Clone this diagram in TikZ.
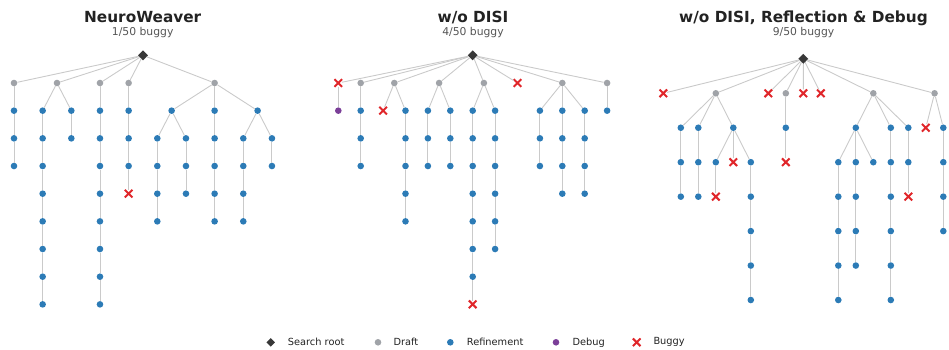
\documentclass[tikz,border=0pt]{standalone}
\usepackage{fontspec}
\setmainfont{DejaVu Sans}
\usetikzlibrary{shapes.misc}
\definecolor{cRoot}{HTML}{383838}
\definecolor{cDraft}{HTML}{A0A3A8}
\definecolor{cRef}{HTML}{2C7BB6}
\definecolor{cDbg}{HTML}{7B3F98}
\definecolor{cBug}{HTML}{E0262A}
\definecolor{cEdge}{HTML}{CACACA}
\definecolor{cTitle}{HTML}{222222}
\definecolor{cSub}{HTML}{555555}
\tikzset{
  rootnode/.style={rectangle, rotate=45, fill=cRoot, inner sep=0pt, minimum size=7pt},
  draftnode/.style={circle, fill=cDraft, inner sep=0pt, minimum size=6.6pt},
  refnode/.style={circle, fill=cRef, inner sep=0pt, minimum size=6.6pt},
  dbgnode/.style={circle, fill=cDbg, inner sep=0pt, minimum size=6.6pt},
  bugnode/.style={cross out, draw=cBug, line width=2pt, inner sep=0pt, minimum size=5.6pt},
  edge/.style={draw=cEdge, line width=0.9pt},
  titletext/.style={font=\fontsize{15.3}{18}\selectfont\bfseries, text=cTitle, anchor=base, inner sep=0pt},
  subtext/.style={font=\fontsize{10.8}{13}\selectfont, text=cSub, anchor=base, inner sep=0pt},
  legtext/.style={font=\fontsize{9.8}{12}\selectfont, text=cTitle, anchor=west, inner sep=0pt},
}
% chain of nodes: #1 prefix, #2 style, #3 x, #4 first level, #5 last level, #6 parent
\newcommand\mychain[6]{%
  \foreach \l [remember=\l as \p (initially #4)] in {#4,...,#5}{%
    \node[#2] (#1-\l) at (#3,\l) {};
    \ifnum\l>#4 \draw[edge] (#1-\p) -- (#1-\l);\fi
  }%
  \draw[edge] (#6) -- (#1-#4);%
}
\begin{document}
\begin{tikzpicture}
\useasboundingbox (0,0) rectangle (949pt,-350pt);

% ---------------- Titles ----------------
\node[titletext] (t1) at (142.7pt,-22.4pt) {NeuroWeaver};
\node[subtext] (s1) at (142.7pt,-35.2pt) {1/50 buggy};
\node[titletext] (t2) at (473pt,-22.4pt) {w/o DISI};
\node[subtext] (s2) at (473pt,-35.2pt) {4/50 buggy};
\node[titletext] (t3) at (803.5pt,-22.4pt) {w/o DISI, Reflection \& Debug};
\node[subtext] (s3) at (803.5pt,-35.2pt) {9/50 buggy};

% ---------------- Panel 1 ----------------
\begin{scope}[shift={(14pt,-55.33pt)}, x=14.33pt, y=-27.67pt]
\node[rootnode] (aR) at (9,0) {};
\node[draftnode] (a1) at (0,1) {};
\node[draftnode] (a2) at (3,1) {};
\node[draftnode] (a3) at (6,1) {};
\node[draftnode] (a4) at (8,1) {};
\node[draftnode] (a5) at (14,1) {};
\foreach \d in {a1,a2,a3,a4,a5} \draw[edge] (aR) -- (\d);
\mychain{a1c}{refnode}{0}{2}{4}{a1}
\mychain{a2a}{refnode}{2}{2}{9}{a2}
\mychain{a2b}{refnode}{4}{2}{3}{a2}
\mychain{a3c}{refnode}{6}{2}{9}{a3}
\mychain{a4c}{refnode}{8}{2}{4}{a4}
\node[bugnode] (a4x) at (8,5) {};
\draw[edge] (a4c-4) -- (a4x);
\node[refnode] (a5a) at (11,2) {};
\draw[edge] (a5) -- (a5a);
\mychain{a5aa}{refnode}{10}{3}{6}{a5a}
\mychain{a5ab}{refnode}{12}{3}{5}{a5a}
\mychain{a5b}{refnode}{14}{2}{6}{a5}
\node[refnode] (a5c) at (17,2) {};
\draw[edge] (a5) -- (a5c);
\mychain{a5ca}{refnode}{16}{3}{6}{a5c}
\mychain{a5cb}{refnode}{18}{3}{4}{a5c}
\end{scope}

% ---------------- Panel 2 ----------------
\begin{scope}[shift={(338.3pt,-55.33pt)}, x=11.2pt, y=-27.67pt]
\node[rootnode] (bR) at (12,0) {};
\node[bugnode] (b1) at (0,1) {};
\node[draftnode] (b2) at (2,1) {};
\node[draftnode] (b3) at (5,1) {};
\node[draftnode] (b4) at (9,1) {};
\node[draftnode] (b5) at (13,1) {};
\node[bugnode] (b6) at (16,1) {};
\node[draftnode] (b7) at (20,1) {};
\node[draftnode] (b8) at (24,1) {};
\foreach \d in {b1,b2,b3,b4,b5,b6,b7,b8} \draw[edge] (bR) -- (\d);
\node[dbgnode] (b1d) at (0,2) {};
\draw[edge] (b1) -- (b1d);
\mychain{b2c}{refnode}{2}{2}{4}{b2}
\node[bugnode] (b3x) at (4,2) {};
\draw[edge] (b3) -- (b3x);
\mychain{b3c}{refnode}{6}{2}{6}{b3}
\mychain{b4a}{refnode}{8}{2}{4}{b4}
\mychain{b4b}{refnode}{10}{2}{4}{b4}
\mychain{b5a}{refnode}{12}{2}{8}{b5}
\node[bugnode] (b5x) at (12,9) {};
\draw[edge] (b5a-8) -- (b5x);
\mychain{b5b}{refnode}{14}{2}{7}{b5}
\mychain{b7a}{refnode}{18}{2}{4}{b7}
\mychain{b7b}{refnode}{20}{2}{5}{b7}
\mychain{b7c}{refnode}{22}{2}{5}{b7}
\mychain{b8c}{refnode}{24}{2}{2}{b8}
\end{scope}

% ---------------- Panel 3 ----------------
\begin{scope}[shift={(663.3pt,-58.85pt)}, x=17.5pt, y=-34.45pt]
\node[rootnode] (cR) at (8,0) {};
\node[bugnode] (c1) at (0,1) {};
\node[draftnode] (c2) at (3,1) {};
\node[bugnode] (c3) at (6,1) {};
\node[draftnode] (c4) at (7,1) {};
\node[bugnode] (c5) at (8,1) {};
\node[bugnode] (c6) at (9,1) {};
\node[draftnode] (c7) at (12,1) {};
\node[draftnode] (c8) at (15.5,1) {};
\foreach \d in {c1,c2,c3,c4,c5,c6,c7,c8} \draw[edge] (cR) -- (\d);
% draft c2
\mychain{c2a}{refnode}{1}{2}{4}{c2}
\mychain{c2b}{refnode}{2}{2}{4}{c2}
\node[refnode] (c2c) at (4,2) {};
\draw[edge] (c2) -- (c2c);
\node[refnode] (c2ca) at (3,3) {};
\draw[edge] (c2c) -- (c2ca);
\node[bugnode] (c2cax) at (3,4) {};
\draw[edge] (c2ca) -- (c2cax);
\node[bugnode] (c2cb) at (4,3) {};
\draw[edge] (c2c) -- (c2cb);
\mychain{c2cc}{refnode}{5}{3}{7}{c2c}
% draft c4
\node[refnode] (c4a) at (7,2) {};
\draw[edge] (c4) -- (c4a);
\node[bugnode] (c4x) at (7,3) {};
\draw[edge] (c4a) -- (c4x);
% draft c7
\node[refnode] (c7a) at (11,2) {};
\draw[edge] (c7) -- (c7a);
\mychain{c7aa}{refnode}{10}{3}{7}{c7a}
\mychain{c7ab}{refnode}{11}{3}{6}{c7a}
\mychain{c7ac}{refnode}{12}{3}{3}{c7a}
\mychain{c7b}{refnode}{13}{2}{7}{c7}
\mychain{c7c}{refnode}{14}{2}{3}{c7}
\node[bugnode] (c7x) at (14,4) {};
\draw[edge] (c7c-3) -- (c7x);
% draft c8
\node[bugnode] (c8x) at (15,2) {};
\draw[edge] (c8) -- (c8x);
\mychain{c8a}{refnode}{16}{2}{5}{c8}
\end{scope}

% ---------------- Legend ----------------
\node[rootnode, minimum size=6pt] (lg1) at (270.7pt,-342.3pt) {};
\node[legtext] (lt1) at (287.7pt,-342.3pt) {Search root};
\node[draftnode] (lg2) at (378pt,-342.3pt) {};
\node[legtext] (lt2) at (393.3pt,-342.3pt) {Draft};
\node[refnode] (lg3) at (450.3pt,-342.3pt) {};
\node[legtext] (lt3) at (466.7pt,-342.3pt) {Refinement};
\node[dbgnode] (lg4) at (556pt,-342.3pt) {};
\node[legtext] (lt4) at (572.3pt,-342.3pt) {Debug};
\node[bugnode] (lg5) at (636.7pt,-342.3pt) {};
\node[legtext] (lt5) at (653.3pt,-342.3pt) {Buggy};
\end{tikzpicture}
\end{document}
